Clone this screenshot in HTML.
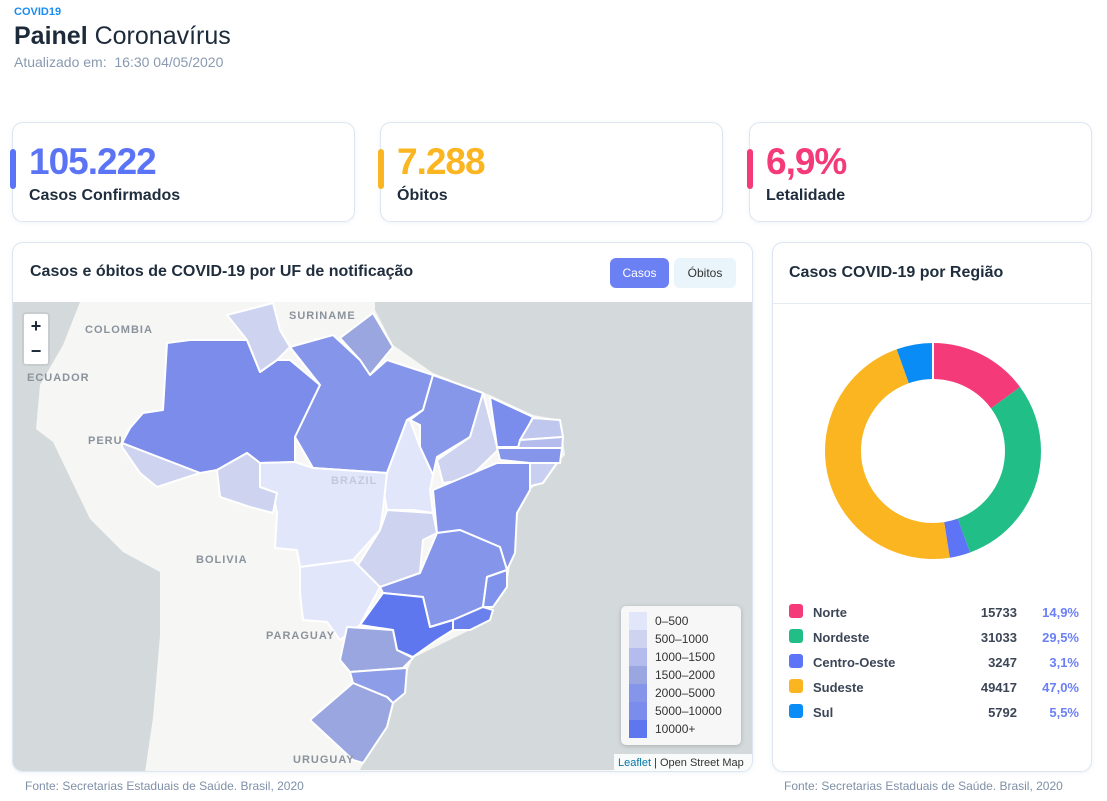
<!DOCTYPE html>
<html><head><meta charset="utf-8"><style>
*{box-sizing:border-box;margin:0;padding:0}
body{width:1107px;height:801px;background:#fff;font-family:"Liberation Sans",sans-serif;position:relative;overflow:hidden;color:#1c2a3a}
.abs{position:absolute}
.card{position:absolute;border:1px solid #dbe6f2;border-radius:11px;background:#fff;box-shadow:0 1px 4px rgba(120,150,190,.12)}
.bar{position:absolute;left:-3px;top:26px;width:6px;height:40px;border-radius:3px}
.big{position:absolute;left:16px;top:18px;font-size:37px;font-weight:bold;letter-spacing:-1px}
.lbl{position:absolute;left:16px;top:64px;font-size:16px;font-weight:bold;color:#1f2d3d}
.fonte{position:absolute;font-size:12px;color:#7f90a8}
.leg td{font-size:13px;font-weight:bold;color:#3c4656;height:25px}
</style></head><body>
<div class="abs" style="left:14px;top:6px;font-size:11px;font-weight:bold;color:#1a8cf0">COVID19</div>
<div class="abs" style="left:14px;top:22px;font-size:25px;color:#1c2a3a"><b>Painel</b> Coronavírus</div>
<div class="abs" style="left:14px;top:54px;font-size:14px;color:#8a9ab0">Atualizado em:&nbsp; 16:30 04/05/2020</div>

<div class="card" style="left:12px;top:122px;width:343px;height:100px"><div class="bar" style="background:#5b73f5"></div><div class="big" style="color:#5b73f5">105.222</div><div class="lbl">Casos Confirmados</div></div>
<div class="card" style="left:380px;top:122px;width:343px;height:100px"><div class="bar" style="background:#fbb521"></div><div class="big" style="color:#fbb521">7.288</div><div class="lbl">Óbitos</div></div>
<div class="card" style="left:749px;top:122px;width:343px;height:100px"><div class="bar" style="background:#f53a79"></div><div class="big" style="color:#f53a79">6,9%</div><div class="lbl">Letalidade</div></div>

<div class="card" style="left:12px;top:242px;width:741px;height:530px;overflow:hidden">
<div class="abs" style="left:17px;top:20px;font-size:16px;font-weight:bold;color:#1f2d3d">Casos e óbitos de COVID-19 por UF de notificação</div>
<div class="abs" style="left:597px;top:15px;width:59px;height:30px;border-radius:6px;background:#6a80f3;color:#fff;font-size:12px;text-align:center;line-height:30px">Casos</div>
<div class="abs" style="left:661px;top:15px;width:62px;height:30px;border-radius:6px;background:#eaf4fb;color:#333;font-size:12px;text-align:center;line-height:30px">Óbitos</div>
<svg class="abs" style="left:0;top:59px" width="741" height="470" viewBox="13 302 741 470">
<rect x="13" y="302" width="741" height="470" fill="#f6f6f4"/>
<polygon fill="#d4dadc" points="375,302 753,302 753,770 360,770 365,760 393,703 413,658 470,630 507,587 517,513 530,490 565,455 560,420 533,415 490,395 433,373 393,345 375,310"/>
<polygon fill="#d4dadc" points="13,302 80,302 63,345 40,385 36,429 53,442 90,519 123,552 160,572 160,635 153,718 145,772 13,772"/>
<g stroke="#fff" stroke-width="2" stroke-linejoin="round">
<polygon fill="#7b8ceb" points="167,343 190,340 247,340 260,372 277,360 290,360 320,385 295,437 295,462 260,463 247,453 217,470 200,473 122,443 130,428 143,413 163,410"/>
<polygon fill="#ced4f0" points="122,443 200,473 157,487 140,473 122,447"/>
<polygon fill="#ced4f0" points="227,315 273,303 280,330 290,347 277,360 260,372 247,340"/>
<polygon fill="#9aa6e0" points="340,338 373,313 393,347 370,375 360,360"/>
<polygon fill="#8596ea" points="290,347 333,335 360,360 370,375 387,360 433,375 423,410 407,420 387,473 313,468 295,437 320,385"/>
<polygon fill="#8697ea" points="433,375 483,393 470,437 437,457 433,475 420,447 420,425 410,420 423,410"/>
<polygon fill="#ced4f0" points="483,393 498,450 467,480 443,483 437,460 470,437"/>
<polygon fill="#7a8cec" points="490,397 533,417 518,447 497,447"/>
<polygon fill="#c0c7ee" points="533,418 560,420 563,437 520,440"/>
<polygon fill="#b3bcec" points="520,440 563,437 562,450 517,452"/>
<polygon fill="#8596ea" points="497,448 562,448 560,463 530,463 500,460"/>
<polygon fill="#c8cff0" points="530,463 557,463 543,483 527,487"/>
<polygon fill="#8394ea" points="433,490 497,463 530,463 530,490 517,513 515,553 507,570 500,547 460,530 437,533"/>
<polygon fill="#e2e6fa" points="410,420 420,447 433,475 430,490 433,513 413,510 387,510 383,487 387,473 407,420"/>
<polygon fill="#e2e6fa" points="260,463 295,462 313,468 387,473 383,510 380,530 353,560 300,567 297,550 275,548 277,513 273,493 260,487"/>
<polygon fill="#ced4f0" points="217,470 247,453 260,463 260,487 277,493 273,513 250,507 220,497"/>
<polygon fill="#ced4f0" points="387,510 433,513 437,533 423,540 420,573 380,587 353,573 380,530"/>
<polygon fill="#e2e6fa" points="300,567 353,560 380,587 360,625 340,640 327,622 303,620 300,593"/>
<polygon fill="#8596ea" points="380,587 420,573 437,533 460,530 500,547 507,570 487,577 483,607 453,620 430,627 423,597 383,593"/>
<polygon fill="#7f92ec" points="487,577 507,570 507,587 493,607 483,607"/>
<polygon fill="#6a80ed" points="453,620 483,607 493,610 490,620 470,630 453,630"/>
<polygon fill="#5f77ee" points="383,593 423,597 430,627 453,620 453,630 437,640 413,657 397,650 393,630 360,625"/>
<polygon fill="#9aa6e0" points="347,627 393,630 397,650 413,658 403,668 377,670 350,672 340,660"/>
<polygon fill="#8d9de7" points="350,672 377,670 407,668 405,693 393,703 387,697 353,683"/>
<polygon fill="#9aa6e0" points="353,683 387,697 393,703 387,727 363,763 353,760 310,720"/>
</g>
<g font-size="11" font-weight="bold" fill="#8a939c" letter-spacing="1">
<text x="85" y="333">COLOMBIA</text><text x="289" y="319">SURINAME</text><text x="27" y="381">ECUADOR</text>
<text x="88" y="444">PERU</text><text x="331" y="484" fill="#c3c8dd">BRAZIL</text><text x="196" y="563">BOLIVIA</text>
<text x="266" y="639">PARAGUAY</text><text x="293" y="763">URUGUAY</text></g>
</svg>
<div class="abs" style="left:9px;top:69px;width:28px;height:54px;background:#fff;border:2px solid #c8cccf;border-radius:4px;font-size:18px;font-weight:bold;text-align:center;line-height:25px">+<br>−</div>
<div class="abs" style="left:608px;top:363px;width:120px;height:139px;background:#f6f7f6;border-radius:5px;box-shadow:0 1px 5px rgba(0,0,0,.2);padding:6px 0 0 8px;font-size:12px;color:#333;line-height:18px">
<div><span style="display:inline-block;width:18px;height:18px;background:#e2e6fa;vertical-align:top;margin-right:8px"></span>0–500</div>
<div><span style="display:inline-block;width:18px;height:18px;background:#ced4f0;vertical-align:top;margin-right:8px"></span>500–1000</div>
<div><span style="display:inline-block;width:18px;height:18px;background:#b3bcec;vertical-align:top;margin-right:8px"></span>1000–1500</div>
<div><span style="display:inline-block;width:18px;height:18px;background:#9aa6e0;vertical-align:top;margin-right:8px"></span>1500–2000</div>
<div><span style="display:inline-block;width:18px;height:18px;background:#8596ea;vertical-align:top;margin-right:8px"></span>2000–5000</div>
<div><span style="display:inline-block;width:18px;height:18px;background:#7a8cec;vertical-align:top;margin-right:8px"></span>5000–10000</div>
<div><span style="display:inline-block;width:18px;height:18px;background:#5f77ee;vertical-align:top;margin-right:8px"></span>10000+</div>
</div>
<div class="abs" style="left:601px;top:511px;width:140px;height:18px;background:rgba(255,255,255,.85);font-size:11px;line-height:18px;padding-left:4px;color:#333"><span style="color:#0078a8">Leaflet</span> | Open Street Map</div>
</div>
<div class="fonte" style="left:25px;top:779px">Fonte: Secretarias Estaduais de Saúde. Brasil, 2020</div>

<div class="card" style="left:772px;top:242px;width:320px;height:530px">
<div class="abs" style="left:16px;top:21px;font-size:16px;font-weight:bold;color:#1f2d3d">Casos COVID-19 por Região</div>
<div class="abs" style="left:0;top:60px;width:318px;border-top:1px solid #e4ebf3"></div>
<svg class="abs" style="left:50px;top:98px" width="220" height="220" viewBox="0 0 220 220">
<g transform="rotate(-90 110 110)" fill="none" stroke-width="36">
<circle cx="110" cy="110" r="90" stroke="#f53a79" stroke-dasharray="84.3 481.2" stroke-dashoffset="0"/>
<circle cx="110" cy="110" r="90" stroke="#21be87" stroke-dasharray="166.8 398.7" stroke-dashoffset="-84.3"/>
<circle cx="110" cy="110" r="90" stroke="#5c74f5" stroke-dasharray="17.5 548" stroke-dashoffset="-251.1"/>
<circle cx="110" cy="110" r="90" stroke="#fbb521" stroke-dasharray="265.8 299.7" stroke-dashoffset="-268.6"/>
<circle cx="110" cy="110" r="90" stroke="#0a8cf7" stroke-dasharray="31.1 534.4" stroke-dashoffset="-534.4"/>
</g>
<g stroke="#fff" stroke-width="2"><line x1="110" y1="0" x2="110" y2="40"/></g>
</svg>
<table class="leg abs" style="left:16px;top:357px;width:290px;border-collapse:collapse">
<tr><td style="width:24px"><span style="display:inline-block;width:14px;height:14px;border-radius:3px;background:#f53a79"></span></td><td>Norte</td><td style="text-align:right">15733</td><td style="text-align:right;color:#6b80f5;width:62px">14,9%</td></tr>
<tr><td><span style="display:inline-block;width:14px;height:14px;border-radius:3px;background:#21be87"></span></td><td>Nordeste</td><td style="text-align:right">31033</td><td style="text-align:right;color:#6b80f5">29,5%</td></tr>
<tr><td><span style="display:inline-block;width:14px;height:14px;border-radius:3px;background:#5c74f5"></span></td><td>Centro-Oeste</td><td style="text-align:right">3247</td><td style="text-align:right;color:#6b80f5">3,1%</td></tr>
<tr><td><span style="display:inline-block;width:14px;height:14px;border-radius:3px;background:#fbb521"></span></td><td>Sudeste</td><td style="text-align:right">49417</td><td style="text-align:right;color:#6b80f5">47,0%</td></tr>
<tr><td><span style="display:inline-block;width:14px;height:14px;border-radius:3px;background:#0a8cf7"></span></td><td>Sul</td><td style="text-align:right">5792</td><td style="text-align:right;color:#6b80f5">5,5%</td></tr>
</table>
</div>
<div class="fonte" style="left:784px;top:779px">Fonte: Secretarias Estaduais de Saúde. Brasil, 2020</div>
</body></html>
